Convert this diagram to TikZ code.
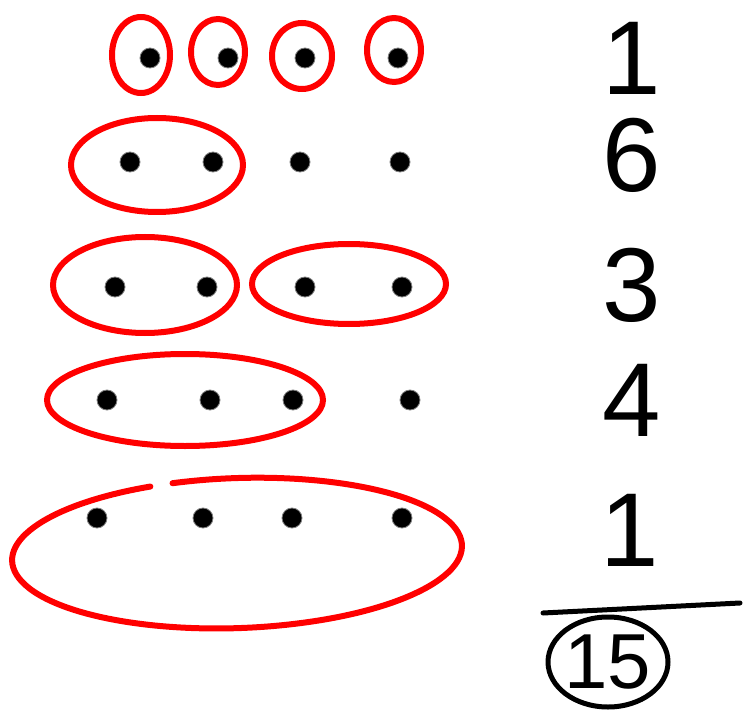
\documentclass[tikz,border=0pt]{standalone}
\usepackage{fontspec}
\setmainfont{Liberation Sans}
\usetikzlibrary{shapes.geometric}

\begin{document}
\begin{tikzpicture}[x=1pt, y=-1pt,
    dot/.style={circle, fill=black, draw=gray, thick, minimum size=20pt, inner sep=0pt},
    grp/.style={draw=red, line width=6pt, line cap=round},
    num/.style={font=\fontsize{105}{105}\selectfont, inner sep=0pt}]
    \useasboundingbox (0,0) rectangle (747,722);
    % four dots in every row
    \foreach \x [count=\i] in {150,228,305,398} \node[dot] (a\i) at (\x,58) {};
    \foreach \x [count=\i] in {130,213,300,400} \node[dot] (b\i) at (\x,162) {};
    \foreach \x [count=\i] in {115,207,305,402} \node[dot] (c\i) at (\x,287) {};
    \foreach \x [count=\i] in {107,210,293,410} \node[dot] (d\i) at (\x,400) {};
    \foreach \x [count=\i] in {97,203,292,402} \node[dot] (e\i) at (\x,518) {};
    % red groups
    \draw[grp] (141,55) ellipse [x radius=29, y radius=38];
    \draw[grp] (218,52) ellipse [x radius=27, y radius=33];
    \draw[grp] (302,56) ellipse [x radius=30, y radius=33];
    \draw[grp] (394,50) ellipse [x radius=27, y radius=32];
    \draw[grp] (157,165) ellipse [x radius=86, y radius=47];
    \draw[grp] (145,285) ellipse [x radius=92, y radius=48];
    \draw[grp] (349,284) ellipse [x radius=97, y radius=40];
    \draw[grp] (185,400) ellipse [x radius=138, y radius=46];
    \draw[grp, rotate around={2:(237,553)}] (175,481) arc [start angle=254, end angle=608, x radius=225, y radius=75];
    % counts
    \node[num] (n1) at (632,58) {1};
    \node[num] (n2) at (632,155) {6};
    \node[num] (n3) at (632,285) {3};
    \node[num] (n4) at (632,400) {4};
    \node[num] (n5) at (630,530) {1};
    \coordinate (l1) at (543,613);
    \coordinate (l2) at (740,603);
    \draw[line width=5pt, line cap=round] (l1) -- (l2);
    \node[num, font=\fontsize{78}{78}\selectfont] (sum) at (608,662) {15};
    \draw[line width=5pt] (sum) ellipse [x radius=60, y radius=45];
\end{tikzpicture}
\end{document}
